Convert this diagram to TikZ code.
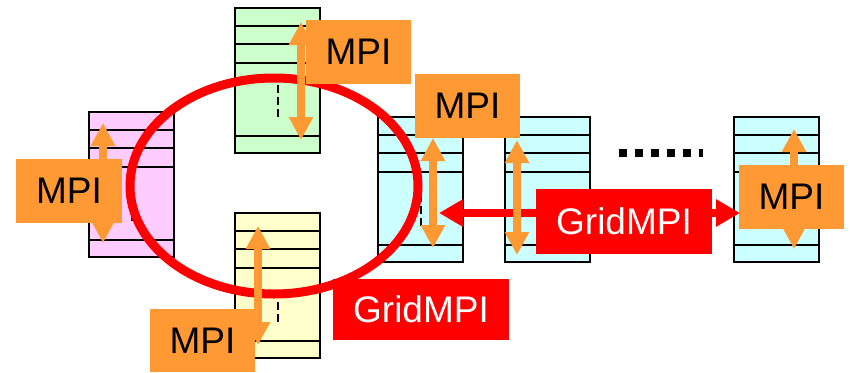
\documentclass[tikz,border=0pt]{standalone}
\usepackage{fontspec}
\setmainfont{Liberation Sans}
\usepackage{tikz}
\usetikzlibrary{arrows.meta,positioning,calc}
\definecolor{mpiorange}{HTML}{FF9933}
\definecolor{gridred}{HTML}{FF0000}
\definecolor{softpink}{HTML}{FFCCFF}
\definecolor{softgreen}{HTML}{CCFFCC}
\definecolor{softyellow}{HTML}{FFFFCC}
\definecolor{softcyan}{HTML}{CCFFFF}
\tikzset{
    every picture/.style={line join=miter},
    stackbox/.style={draw=black,line width=1.8pt,rectangle,anchor=north west,
      minimum width=85pt,minimum height=145pt,inner sep=0pt,outer sep=0pt},
    rowline/.style={draw=black,line width=1.8pt},
    gapline/.style={draw=black,line width=2pt,dash pattern=on 8pt off 4pt},
    mpiarrow/.style={{Triangle[length=23pt,width=23pt]}-{Triangle[length=23pt,width=23pt]},
      draw=mpiorange,line width=8pt},
    gridarrow/.style={{Triangle[length=24pt,width=26pt]}-{Triangle[length=24pt,width=26pt]},
      draw=gridred,line width=8pt},
    mpilabel/.style={fill=mpiorange,anchor=north west,inner sep=0pt,outer sep=0pt,
      minimum width=105pt,minimum height=64pt,text=black,
      font=\fontsize{37}{40}\selectfont},
    gridlabel/.style={fill=gridred,anchor=north west,inner sep=0pt,outer sep=0pt,
      minimum width=176pt,minimum height=65pt,text=white,
      font=\fontsize{37}{40}\selectfont}
}
\newcommand{\stackrows}[1]{%
    \foreach \dy in {18,36,55,128}
      \draw[rowline] ($(#1.north west)+(0,\dy)$) -- ($(#1.north east)+(0,\dy)$);
    \draw[gapline] ($(#1.north)+(0,77)$) -- ($(#1.north)+(0,110)$);
}
\begin{document}
\begin{tikzpicture}[x=1pt,y=-1pt]
    \useasboundingbox (0,0) rectangle (850,372);
    % process stacks
    \node[stackbox,fill=softpink] (pink) at (89,112) {};
    \node[stackbox,fill=softgreen] (green) at (235,8) {};
    \node[stackbox,fill=softyellow] (yellow) at (235,213) {};
    \node[stackbox,fill=softcyan] (cyanA) at (378,117) {};
    \node[stackbox,fill=softcyan] (cyanB) at (505,117) {};
    \node[stackbox,fill=softcyan] (cyanC) at (734,117) {};
    \foreach \s in {pink,green,yellow,cyanA,cyanB,cyanC}
      \stackrows{\s}
    \draw[black,line width=7.5pt,dash pattern=on 7.5pt off 8.5pt] (619,153) -- (703,153);
    % cluster ring
    \draw[gridred,line width=9pt] (274,186) ellipse [x radius=144,y radius=108];
    % arrow ends
    \coordinate (pinkT) at ($(pink.north west)+(14,11)$);
    \coordinate (pinkB) at ($(pink.north west)+(14,131)$);
    \coordinate (greenT) at ($(green.north west)+(66,14)$);
    \coordinate (greenB) at ($(green.north west)+(66,132)$);
    \coordinate (yellowT) at ($(yellow.north west)+(23,13)$);
    \coordinate (yellowB) at ($(yellow.north west)+(23,132)$);
    \coordinate (cyanAT) at ($(cyanA.north west)+(55,21)$);
    \coordinate (cyanAB) at ($(cyanA.north west)+(55,131)$);
    \coordinate (cyanBT) at ($(cyanB.north west)+(12,23)$);
    \coordinate (cyanBB) at ($(cyanB.north west)+(12,138)$);
    \coordinate (cyanCT) at ($(cyanC.north west)+(60,12)$);
    \coordinate (cyanCB) at ($(cyanC.north west)+(60,132)$);
    \coordinate (gridL) at ($(cyanA.north west)+(61,96)$);
    \coordinate (gridR) at ($(cyanC.north west)+(6,96)$);
    \draw[gridarrow] (gridL) -- (gridR);
    \foreach \s in {pink,green,yellow,cyanA,cyanB,cyanC}
      \draw[mpiarrow] (\s T) -- (\s B);
    % labels
    \node[mpilabel,minimum width=106pt] (pinkmpi) at (16,159) {MPI};
    \node[mpilabel] (greenmpi) at (306,20) {MPI};
    \node[mpilabel,minimum height=63pt] (yellowmpi) at (150,309) {MPI};
    \node[mpilabel] (cyanAmpi) at (415,74) {MPI};
    \node[mpilabel] (cyanCmpi) at (739,165) {MPI};
    \node[gridlabel] (wanmpi) at (536,189) {GridMPI};
    \node[gridlabel,minimum height=61pt] (lanmpi) at (333,279) {GridMPI};
\end{tikzpicture}
\end{document}
